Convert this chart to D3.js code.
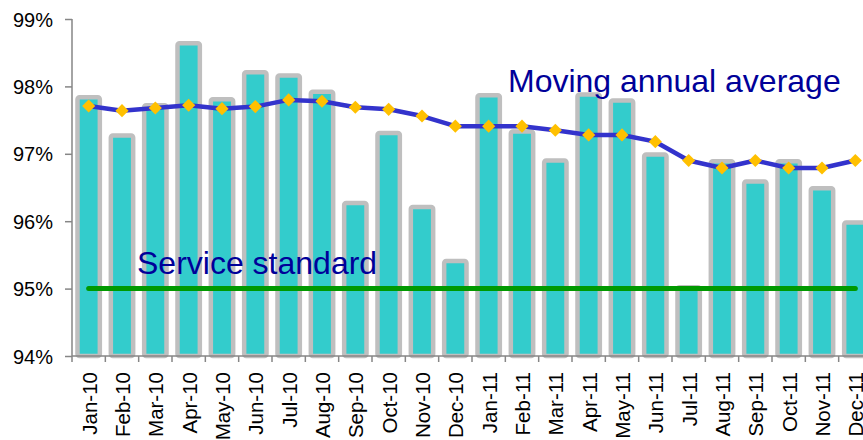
<!DOCTYPE html>
<html>
<head>
<meta charset="utf-8">
<script src="https://cdn.jsdelivr.net/npm/d3@7"></script>
<style>
  body { margin: 0; background: #fff; }
  svg { display: block; font-family: "Liberation Sans", Arial, sans-serif; }
  .axis path, .axis line { stroke: #868686; stroke-width: 1.5; }
  .axis text { fill: #000; }
</style>
</head>
<body>
<div class="container"></div>
<script>
var width = 863;
var height = 440;
var margin = {top: 19, right: -9, bottom: 84, left: 72};
var innerWidth = width - margin.left - margin.right;
var innerHeight = height - margin.top - margin.bottom;

var months = ['Jan-10','Feb-10','Mar-10','Apr-10','May-10','Jun-10','Jul-10','Aug-10','Sep-10','Oct-10','Nov-10','Dec-10',
  'Jan-11','Feb-11','Mar-11','Apr-11','May-11','Jun-11','Jul-11','Aug-11','Sep-11','Oct-11','Nov-11','Dec-11'];
var monthly = [97.84, 97.27, 97.72, 98.64, 97.81, 98.21, 98.16, 97.92, 96.27, 97.31, 96.21, 95.41,
  97.87, 97.33, 96.90, 97.88, 97.79, 96.99, 95.02, 96.89, 96.59, 96.89, 96.49, 95.98];
var movingAvg = [97.71, 97.64, 97.68, 97.72, 97.67, 97.70, 97.80, 97.78, 97.69, 97.66, 97.56, 97.41,
  97.41, 97.41, 97.35, 97.28, 97.28, 97.18, 96.90, 96.79, 96.90, 96.79, 96.79, 96.90];
var serviceStandard = 95;
var yTicks = [94, 95, 96, 97, 98, 99];

var translate = function(x, y) {
  return 'translate(' + x + ',' + y + ')';
};

var draw = function() {
  var svg = d3.select('.container').append('svg')
    .attr('width', width)
    .attr('height', height);

  var x = d3.scaleBand()
    .domain(months)
    .range([0, innerWidth])
    .paddingInner(0.33)
    .paddingOuter(0.165);

  var y = d3.scaleLinear()
    .domain([94, 99])
    .range([innerHeight, 0]);

  var g = svg.append('g').attr('transform', translate(margin.left, margin.top));

  // bars
  g.selectAll('.bar').data(monthly).enter()
    .append('rect')
    .attr('class', 'bar')
    .attr('x', function(d, i) { return x(months[i]); })
    .attr('y', function(d) { return y(d); })
    .attr('width', x.bandwidth())
    .attr('height', function(d) { return innerHeight - y(d); })
    .attr('rx', 2)
    .attr('fill', '#33CCCC')
    .attr('stroke', '#BFBFBF')
    .attr('stroke-width', 4.5);

  // x axis, ticks at band boundaries
  var step = x.step();
  var xAxis = g.append('g')
    .attr('class', 'axis')
    .attr('transform', translate(0, innerHeight));
  xAxis.append('line')
    .attr('x1', 0).attr('x2', innerWidth);
  xAxis.selectAll('.tick').data(d3.range(months.length + 1)).enter()
    .append('line')
    .attr('x1', function(i) { return i * step; })
    .attr('x2', function(i) { return i * step; })
    .attr('y1', 0).attr('y2', 6);
  xAxis.selectAll('text').data(months).enter()
    .append('text')
    .attr('transform', function(d) {
      return translate(x(d) + x.bandwidth() / 2 + 8, 16) + ' rotate(-90)';
    })
    .attr('text-anchor', 'end')
    .style('font-size', '20.5px')
    .text(function(d) { return d; });

  // y axis
  var yAxis = d3.axisLeft(y)
    .tickValues(yTicks)
    .tickSize(7)
    .tickPadding(12)
    .tickFormat(function(d) { return d + '%'; });
  g.append('g')
    .attr('class', 'axis')
    .call(yAxis)
    .call(function(a) { a.select('.domain').attr('d', 'M0,0V' + innerHeight); })
    .selectAll('text')
    .style('font-size', '20px')
    .attr('dy', '0.35em');

  // service standard line
  g.append('line')
    .attr('x1', x(months[0]) + x.bandwidth() / 2)
    .attr('x2', x(months[months.length - 1]) + x.bandwidth() / 2)
    .attr('y1', y(serviceStandard))
    .attr('y2', y(serviceStandard))
    .attr('stroke', '#009900')
    .attr('stroke-width', 5)
    .attr('stroke-linecap', 'round');

  // moving annual average
  var line = d3.line()
    .x(function(d, i) { return x(months[i]) + x.bandwidth() / 2; })
    .y(function(d) { return y(d); });

  g.append('path')
    .datum(movingAvg)
    .attr('d', line)
    .attr('fill', 'none')
    .attr('stroke', '#3333CC')
    .attr('stroke-width', 4.5)
    .attr('stroke-linejoin', 'round');

  var diamond = d3.symbol().type(d3.symbolDiamond2).size(110);
  g.selectAll('.marker').data(movingAvg).enter()
    .append('path')
    .attr('class', 'marker')
    .attr('d', diamond)
    .attr('transform', function(d, i) {
      return translate(x(months[i]) + x.bandwidth() / 2, y(d));
    })
    .attr('fill', '#FFC000');

  // labels
  svg.append('text')
    .attr('x', 508).attr('y', 92)
    .attr('fill', '#000099')
    .style('font-size', '32px')
    .text('Moving annual average');

  svg.append('text')
    .attr('x', 137).attr('y', 274)
    .attr('fill', '#000099')
    .style('font-size', '32px')
    .text('Service standard');
};

window.onload = draw;
</script>
</body>
</html>
